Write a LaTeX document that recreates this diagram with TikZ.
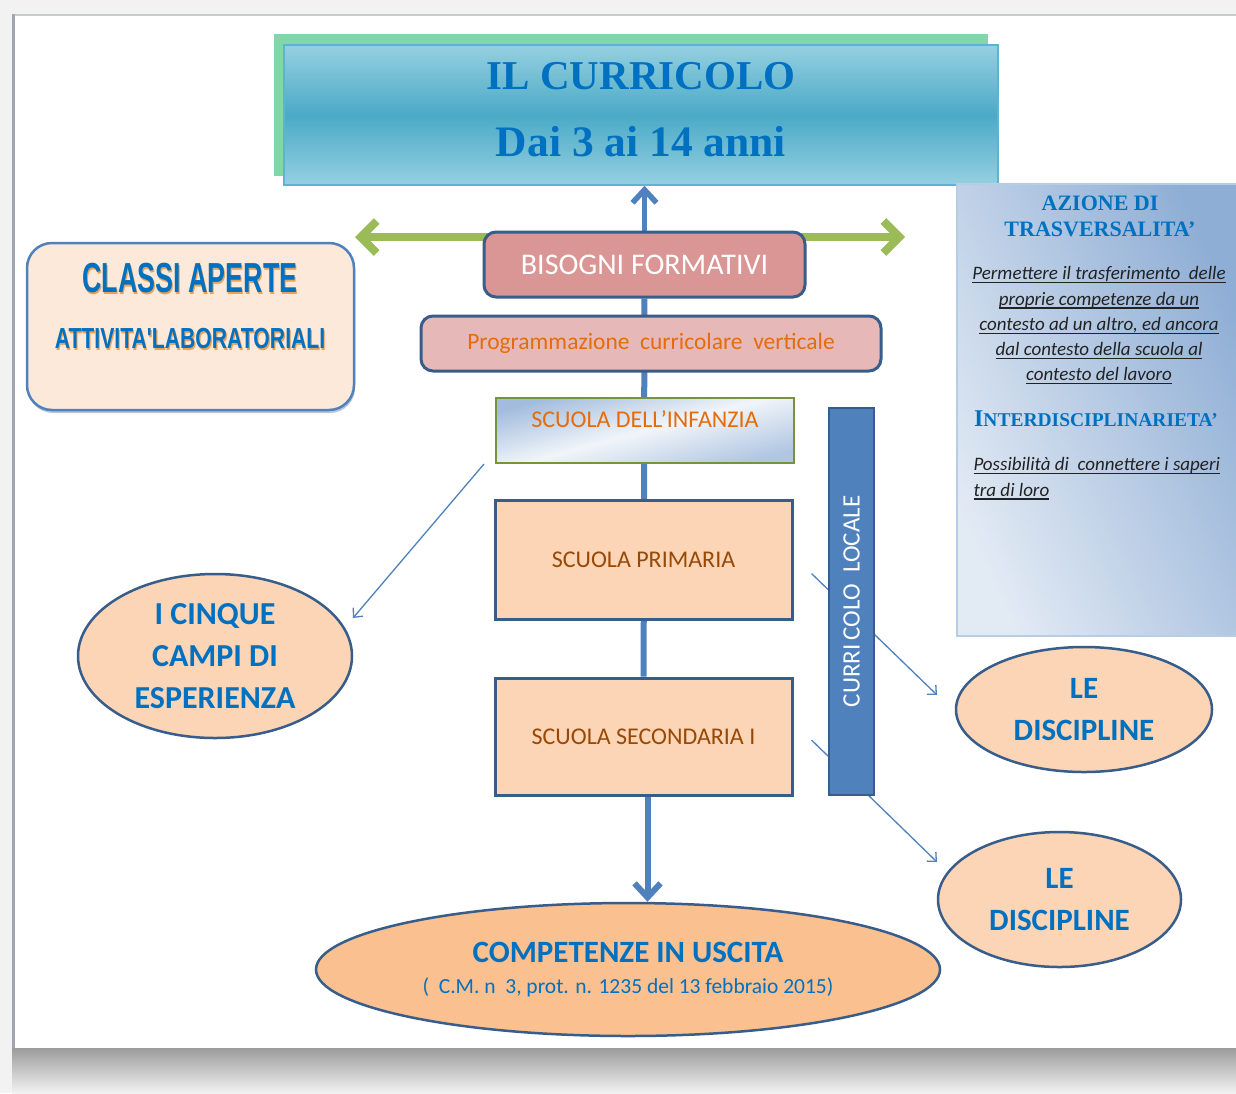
\documentclass[tikz,border=0pt]{standalone}
\usepackage{fontspec}
\setmainfont{Carlito}
\newfontfamily\heavyserif{Liberation Serif}
\newfontfamily\heavysans{Liberation Sans}
\usetikzlibrary{positioning,arrows.meta,shapes.geometric,shadows}
\pgfdeclarelayer{back}
\pgfdeclarelayer{wires}
\pgfsetlayers{back,wires,main}

\definecolor{pagegray}{HTML}{F2F2F2}
\definecolor{edgegray}{HTML}{A2A6AF}
\definecolor{shadowgray}{HTML}{9C9C9C}
\definecolor{titlegreen}{HTML}{82D6A9}
\definecolor{titlelight}{HTML}{95D0E1}
\definecolor{titlemid}{HTML}{4BAAC6}
\definecolor{titleedge}{HTML}{5DB4D2}
\definecolor{darkblue}{HTML}{0070C0}
\definecolor{edgeblue}{HTML}{385D8A}
\definecolor{barblue}{HTML}{4F81BD}
\definecolor{leafgreen}{HTML}{9BBB59}
\definecolor{rosebox}{HTML}{D99694}
\definecolor{pinkbox}{HTML}{E6B9B8}
\definecolor{peach}{HTML}{FBD5B5}
\definecolor{apricot}{HTML}{FAC090}
\definecolor{cream}{HTML}{FDE9D9}
\definecolor{orangetext}{HTML}{E46C0A}
\definecolor{browntext}{HTML}{984807}
\definecolor{glowor}{HTML}{E9A25C}
\definecolor{panellight}{HTML}{E2EAF4}
\definecolor{paneldark}{HTML}{8FAED5}
\definecolor{paneledge}{HTML}{B8CCE4}
\definecolor{infblue}{HTML}{A3BCDD}
\definecolor{infedge}{HTML}{77933C}
\definecolor{inktext}{HTML}{222222}

\newcommand{\glow}[1]{\makebox[0pt][l]{\hspace{1.5pt}\raisebox{-1.5pt}{\textcolor{glowor}{#1}}}\textcolor{darkblue}{#1}}
\newcommand{\fsz}[2]{\fontsize{#1}{#2}\selectfont}
\newcommand{\uln}[1]{\setbox0\hbox{#1}\rlap{\rule[-3.5pt]{\wd0}{1.2pt}}\box0}

\begin{document}
\begin{tikzpicture}[x=1pt,y=-1pt,
  pinkbox/.style={draw=edgeblue,line width=3pt,rounded corners=12pt,inner sep=0pt},
  schoolbox/.style={draw=edgeblue,line width=3pt,fill=peach,inner sep=0pt,minimum width=297pt,
    font=\fsz{24}{29},text=browntext},
  oval/.style={ellipse,draw=edgeblue,line width=2.5pt,fill=peach,inner sep=0pt,align=center,
    text=darkblue,font=\bfseries\fsz{31}{42}},
  trunk/.style={draw=barblue,line width=6pt},
  thinarrow/.style={draw=barblue,line width=1.3pt,-{Straight Barb[width=13pt,length=7pt]}},
  ]
  \useasboundingbox (0,0) rectangle (1236,1093);

  \begin{pgfonlayer}{back}
    \fill[pagegray] (0,0) rectangle (1236,1093);
    \fill[white] (12,14) rectangle (1236,1048);
    \draw[edgegray!60,line width=2pt] (12,15) -- (1236,15);
    \draw[edgegray,line width=3pt] (13.5,14) -- (13.5,1048);
    \shade[top color=shadowgray,bottom color=pagegray] (12,1048) rectangle (1236,1093);
  \end{pgfonlayer}

  \node (titleback) [fill=titlegreen,minimum width=714pt,minimum height=142pt,inner sep=0pt] at (631,105) {};
  \node (title) [draw=titleedge,line width=1.5pt,top color=titlelight,bottom color=titlelight,middle color=titlemid,
    minimum width=714pt,minimum height=140pt,inner sep=0pt] at (641,115) {};
  \node (titletxt) [align=center,text=darkblue,font=\heavyserif\bfseries\fsz{41}{67}] at (641,110)
    {IL CURRICOLO\\{\fsz{43.5}{67}Dai 3 ai 14 anni}};

  \node (classi) [draw=barblue,line width=2.5pt,fill=cream,rounded corners=25pt,minimum width=327pt,
    minimum height=167pt,inner sep=0pt,drop shadow={shadow xshift=1pt,shadow yshift=-3pt,fill=edgeblue!70}]
    at (190.5,326.5) {};
  \node (classitxt) [align=center,font=\heavysans\bfseries] at (190,307)
    {\scalebox{0.64}[1]{\fsz{42}{56}\glow{CLASSI APERTE}}\\[33pt]
     \scalebox{0.73}[1]{\fsz{29}{35}\glow{ATTIVITA'LABORATORIALI}}};

  \node (bis) [pinkbox,fill=rosebox,minimum width=321pt,minimum height=65pt,text=white,font=\fsz{30}{36}]
    at (644.5,264.5) {BISOGNI FORMATIVI};
  \node (prog) [pinkbox,fill=pinkbox,minimum width=460pt,minimum height=55pt,text=orangetext,font=\fsz{23.5}{28}]
    at (651,343.5) {Programmazione\ \ curricolare\ \ verticale};

  \node (inf) [draw=infedge,line width=2pt,top color=infblue,bottom color=infblue!85,middle color=infblue!15,
    shading angle=15,minimum width=298pt,minimum height=65pt,inner sep=0pt,text=orangetext,
    font=\fsz{24}{29},text height=16pt,text depth=21.6pt] at (645,430.5) {SCUOLA DELL’INFANZIA};
  \node (prim) [schoolbox,minimum height=119pt] at (643.5,559.5) {SCUOLA PRIMARIA};
  \node (sec) [schoolbox,minimum height=117pt] at (643.5,736.5) {SCUOLA SECONDARIA I};

  \node (bar) [draw=edgeblue,line width=2pt,fill=barblue,rotate=90,minimum width=387pt,minimum height=45pt,
    inner sep=0pt,text=white,font=\fsz{25}{30}] at (851.5,601.5) {CURRI\,COLO\ \ LOCALE};

  \node (cinque) [oval,minimum width=274pt,minimum height=164pt,font=\bfseries\fsz{32}{42}] at (215,656)
    {I CINQUE\\CAMPI DI\\ESPERIENZA};
  \node (disc1) [oval,minimum width=256pt,minimum height=125pt] at (1084,709.5) {LE\\DISCIPLINE};
  \node (disc2) [oval,minimum width=243pt,minimum height=135pt] at (1059.5,899.5) {LE\\DISCIPLINE};
  \node (comp) [oval,fill=apricot,minimum width=624pt,minimum height=133pt] at (628,969.5)
    {COMPETENZE IN USCITA\\[-11pt]{\mdseries\fsz{21.5}{26}(\ \ C.M. n\ \ 3, prot. n. 1235 del 13 febbraio 2015)}};

  \node (panel) [draw=paneledge,line width=1.5pt,top color=panellight,bottom color=paneldark,shading angle=115,
    minimum width=283pt,minimum height=452pt,inner sep=0pt] at (1098.5,410) {};
  \node (azione) [align=center,text=darkblue,font=\heavyserif\bfseries\fsz{22}{26}] at (1100,216)
    {AZIONE DI\\TRASVERSALITA’};
  \node (permettere) [anchor=north,align=center,text=inktext,font=\itshape\fsz{19}{25.3}] at (1099,263)
    {\uln{Permettere il trasferimento\ \ delle}\\\uln{proprie competenze da un}\\
     \uln{contesto ad un altro, ed ancora}\\\uln{dal contesto della scuola al}\\
     \uln{contesto del lavoro}};
  \node (inter) [text=darkblue,font=\heavyserif\bfseries\fsz{24}{28}] at (1096,419)
    {I{\fsz{19.5}{24}NTERDISCIPLINARIETA’}};
  \node (possib) [anchor=north west,align=left,text=inktext,font=\itshape\fsz{19}{25.3}] at (970,454)
    {\uln{Possibilità di\ \ connettere i saperi}\\\uln{tra di loro}};

  \coordinate (gl) at (355,237);
  \coordinate (gr) at (905,237);
  \coordinate (c5tip) at (353,618);
  \coordinate (d1tip) at (937,695);
  \coordinate (d2tip) at (937,862);

  \begin{pgfonlayer}{wires}
    \draw [leafgreen,line width=8pt,line cap=round,
      {Straight Barb[width=32pt,length=16pt]}-{Straight Barb[width=32pt,length=16pt]}] (gl) -- (gr);
    \draw [barblue,line width=5.5pt,-{Straight Barb[width=24pt,length=13pt]}] (bis.north) -- (bis.north |- title.south);
    \draw [trunk] (bis) -- (sec);
    \draw [trunk,-{Straight Barb[width=26pt,length=14pt]}] ([xshift=4pt]sec.south) -- ([xshift=4pt]sec.south |- comp.north);
    \draw [thinarrow] ([xshift=-11pt]inf.south west) -- (c5tip);
    \draw [thinarrow] ([shift={(18pt,-14pt)}]prim.east) -- (d1tip);
    \draw [thinarrow] ([shift={(18pt,-3.5pt)}]sec.east) -- (d2tip);
  \end{pgfonlayer}
\end{tikzpicture}
\end{document}
